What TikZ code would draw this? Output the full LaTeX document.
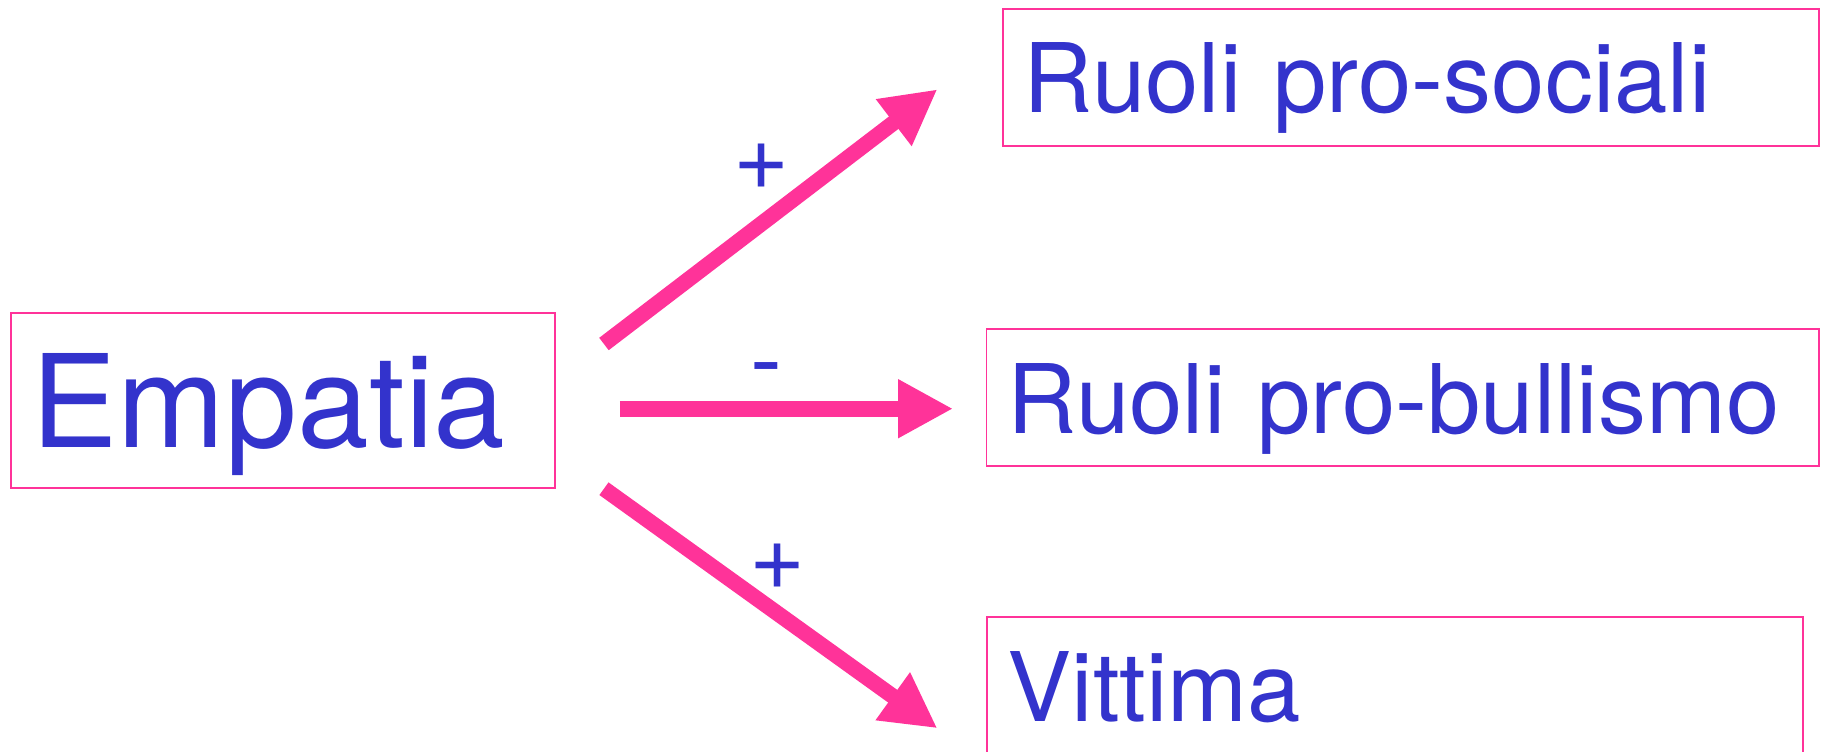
\documentclass[tikz,border=0pt]{standalone}
\usepackage{fontspec}
\setmainfont{TeX Gyre Heros}
\usetikzlibrary{arrows.meta}
\definecolor{rosa}{HTML}{FF3399}
\definecolor{blu}{HTML}{3333CC}
\tikzset{
every node/.style={text=blu}, % all texts are blue
box/.style={draw=rosa, line width=0.9pt, inner xsep=10.5pt, inner ysep=0pt, align=left, text depth=0pt}, % framed boxes
role/.style={box, font=\fontsize{48}{52}\selectfont, text height=35.5pt, minimum height=68.5pt}, % the three boxes on the right
sign/.style={font=\fontsize{48}{52}\selectfont}, % the + and - on the links
link/.style={->, color=rosa, line width=7.8pt}, % thick pink arrows
}

\begin{document}
\begin{tikzpicture}[x=0.5pt, y=-0.5pt, >={Triangle[length=27.5pt, width=27.5pt]}]
    \useasboundingbox (0,0) rectangle (1825,751);
    \node[box, font=\fontsize{64.5}{70}\selectfont, text height=46.8pt, minimum width=272.15pt, minimum height=87.5pt, text width=251.15pt] (emp) at (282.9,400.5) {Empatia};
    \node[role, minimum width=408.15pt, text width=387.15pt] (soc) at (1410.9,77.2) {Ruoli pro-sociali};
    \node[role, minimum width=416.25pt, text width=395.25pt] (bul) at (1402.8,397.5) {Ruoli pro-bullismo};
    \node[role, minimum width=407.85pt, text width=386.85pt] (vit) at (1394.8,685.5) {Vittima};
    % ends of the arrows
    \coordinate (e1) at ([shift={(48,-56.5)}]emp.east);
    \coordinate (e2) at ([shift={(64,8.2)}]emp.east);
    \coordinate (e3) at ([shift={(48,88.2)}]emp.east);
    \coordinate (t1) at ([shift={(-64.45,12.1)}]soc.west);
    \coordinate (t2) at ([shift={(-32.55,11.2)}]bul.west);
    \coordinate (t3) at ([shift={(-48.65,42.8)}]vit.west);
    \path
    (e1) edge[link] node[sign, pos=.472, yshift=28.35pt] {+} (t1)
    (e2) edge[link] node[sign, pos=.44, yshift=15.55pt] {-} (t2)
    (e3) edge[link] node[sign, pos=.52, yshift=23.15pt] {+} (t3);
\end{tikzpicture}
\end{document}
